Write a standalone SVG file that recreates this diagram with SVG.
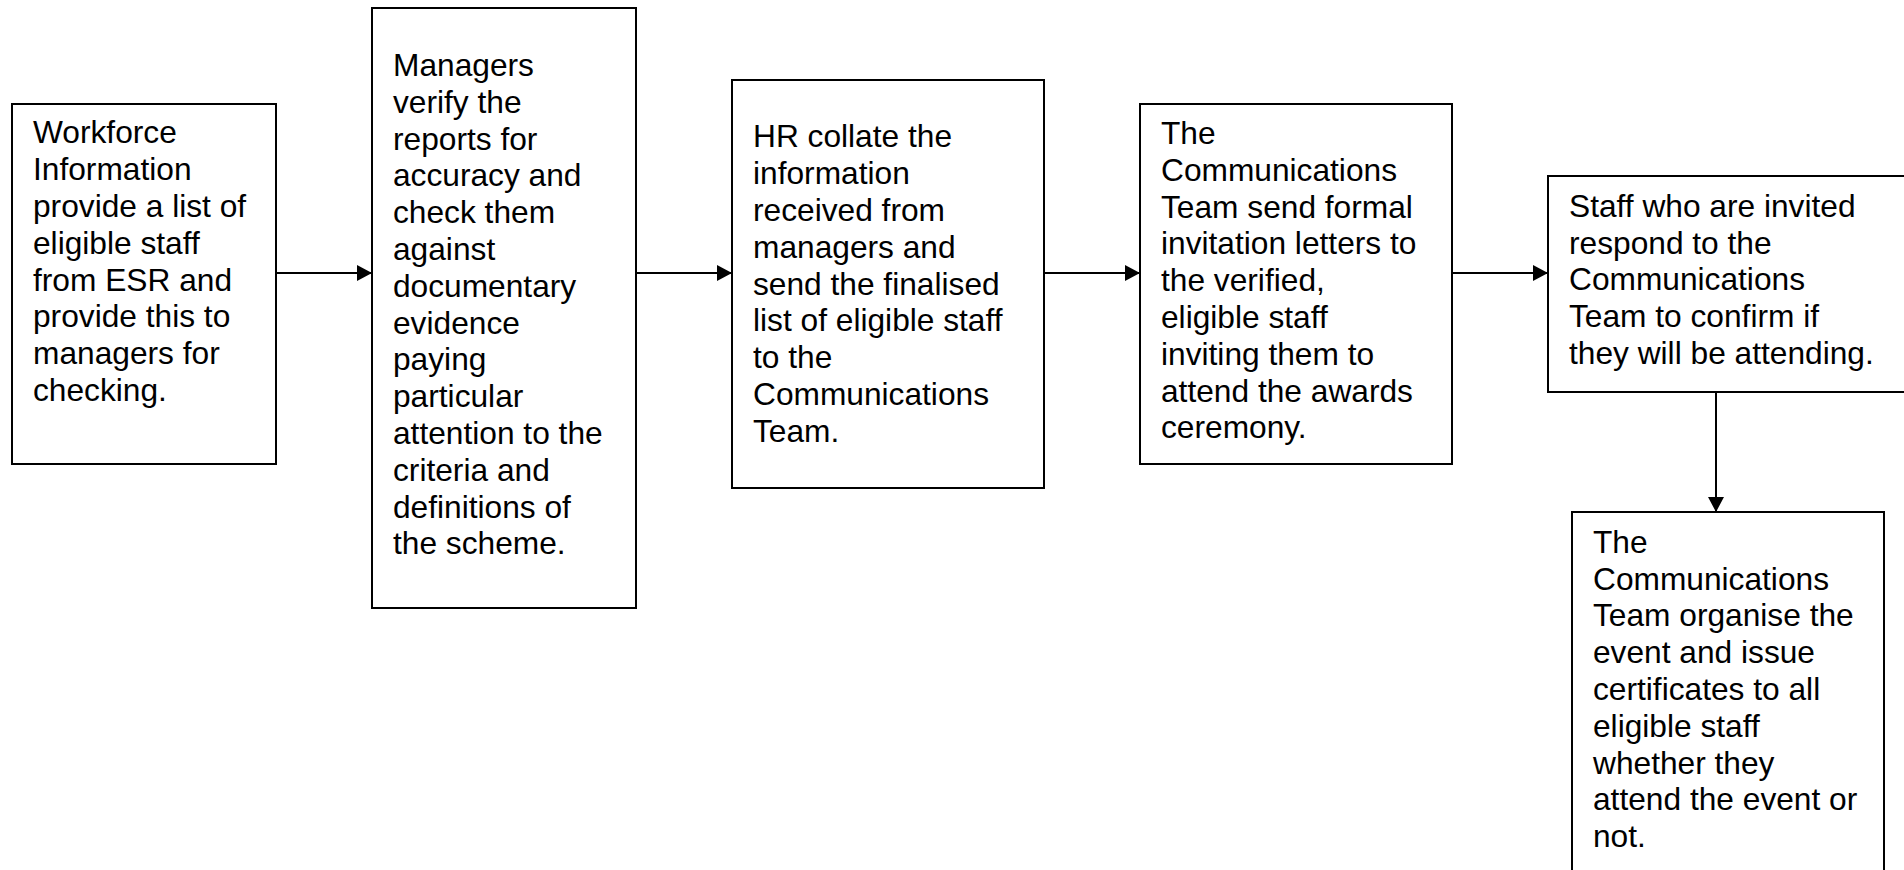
<svg xmlns="http://www.w3.org/2000/svg" width="1904" height="870" viewBox="0 0 1904 870">
<style>
.box{fill:#fff;stroke:#000;stroke-width:2}
.t{font-family:"Liberation Sans",Arial,sans-serif;font-size:31.7px;fill:#000}
.c{stroke:#000;stroke-width:2;fill:none}
</style>
<defs>
<marker id="ah" viewBox="0 0 15 16" refX="15" refY="8" markerWidth="15" markerHeight="16" markerUnits="userSpaceOnUse" orient="auto">
<path d="M0,0 L15,8 L0,16 z" fill="#000"/>
</marker>
</defs>
<rect width="1904" height="870" fill="#fff"/>
<g id="connectors">
<line class="c" x1="276" y1="273" x2="372" y2="273" marker-end="url(#ah)"/>
<line class="c" x1="636" y1="273" x2="732" y2="273" marker-end="url(#ah)"/>
<line class="c" x1="1044" y1="273" x2="1140" y2="273" marker-end="url(#ah)"/>
<line class="c" x1="1452" y1="273" x2="1548" y2="273" marker-end="url(#ah)"/>
<line class="c" x1="1716" y1="392" x2="1716" y2="512" marker-end="url(#ah)"/>
</g>
<g id="n1">
<rect class="box" x="12" y="104" width="264" height="360"/>
<text class="t" x="33"><tspan x="33" y="143.3">Workforce</tspan><tspan x="33" y="180.1">Information</tspan><tspan x="33" y="216.9">provide a list of</tspan><tspan x="33" y="253.7">eligible staff</tspan><tspan x="33" y="290.5">from ESR and</tspan><tspan x="33" y="327.3">provide this to</tspan><tspan x="33" y="364.1">managers for</tspan><tspan x="33" y="400.9">checking.</tspan></text>
</g>
<g id="n2">
<rect class="box" x="372" y="8" width="264" height="600"/>
<text class="t"><tspan x="393" y="76">Managers</tspan><tspan x="393" y="112.8">verify the</tspan><tspan x="393" y="149.6">reports for</tspan><tspan x="393" y="186.4">accuracy and</tspan><tspan x="393" y="223.2">check them</tspan><tspan x="393" y="260">against</tspan><tspan x="393" y="296.8">documentary</tspan><tspan x="393" y="333.6">evidence</tspan><tspan x="393" y="370.4">paying</tspan><tspan x="393" y="407.2">particular</tspan><tspan x="393" y="444">attention to the</tspan><tspan x="393" y="480.8">criteria and</tspan><tspan x="393" y="517.6">definitions of</tspan><tspan x="393" y="554.4">the scheme.</tspan></text>
</g>
<g id="n3">
<rect class="box" x="732" y="80" width="312" height="408"/>
<text class="t"><tspan x="753" y="147.3">HR collate the</tspan><tspan x="753" y="184.1">information</tspan><tspan x="753" y="220.9">received from</tspan><tspan x="753" y="257.7">managers and</tspan><tspan x="753" y="294.5">send the finalised</tspan><tspan x="753" y="331.3">list of eligible staff</tspan><tspan x="753" y="368.1">to the</tspan><tspan x="753" y="404.9">Communications</tspan><tspan x="753" y="441.7">Team.</tspan></text>
</g>
<g id="n4">
<rect class="box" x="1140" y="104" width="312" height="360"/>
<text class="t"><tspan x="1161" y="144">The</tspan><tspan x="1161" y="180.8">Communications</tspan><tspan x="1161" y="217.6">Team send formal</tspan><tspan x="1161" y="254.4">invitation letters to</tspan><tspan x="1161" y="291.2">the verified,</tspan><tspan x="1161" y="328">eligible staff</tspan><tspan x="1161" y="364.8">inviting them to</tspan><tspan x="1161" y="401.6">attend the awards</tspan><tspan x="1161" y="438.4">ceremony.</tspan></text>
</g>
<g id="n5">
<rect class="box" x="1548" y="176" width="380" height="216"/>
<text class="t"><tspan x="1569" y="216.7">Staff who are invited</tspan><tspan x="1569" y="253.5">respond to the</tspan><tspan x="1569" y="290.3">Communications</tspan><tspan x="1569" y="327.1">Team to confirm if</tspan><tspan x="1569" y="363.9">they will be attending.</tspan></text>
</g>
<g id="n6">
<rect class="box" x="1572" y="512" width="312" height="400"/>
<text class="t"><tspan x="1593" y="552.7">The</tspan><tspan x="1593" y="589.5">Communications</tspan><tspan x="1593" y="626.3">Team organise the</tspan><tspan x="1593" y="663.1">event and issue</tspan><tspan x="1593" y="699.9">certificates to all</tspan><tspan x="1593" y="736.7">eligible staff</tspan><tspan x="1593" y="773.5">whether they</tspan><tspan x="1593" y="810.3">attend the event or</tspan><tspan x="1593" y="847.1">not.</tspan></text>
</g>
</svg>
